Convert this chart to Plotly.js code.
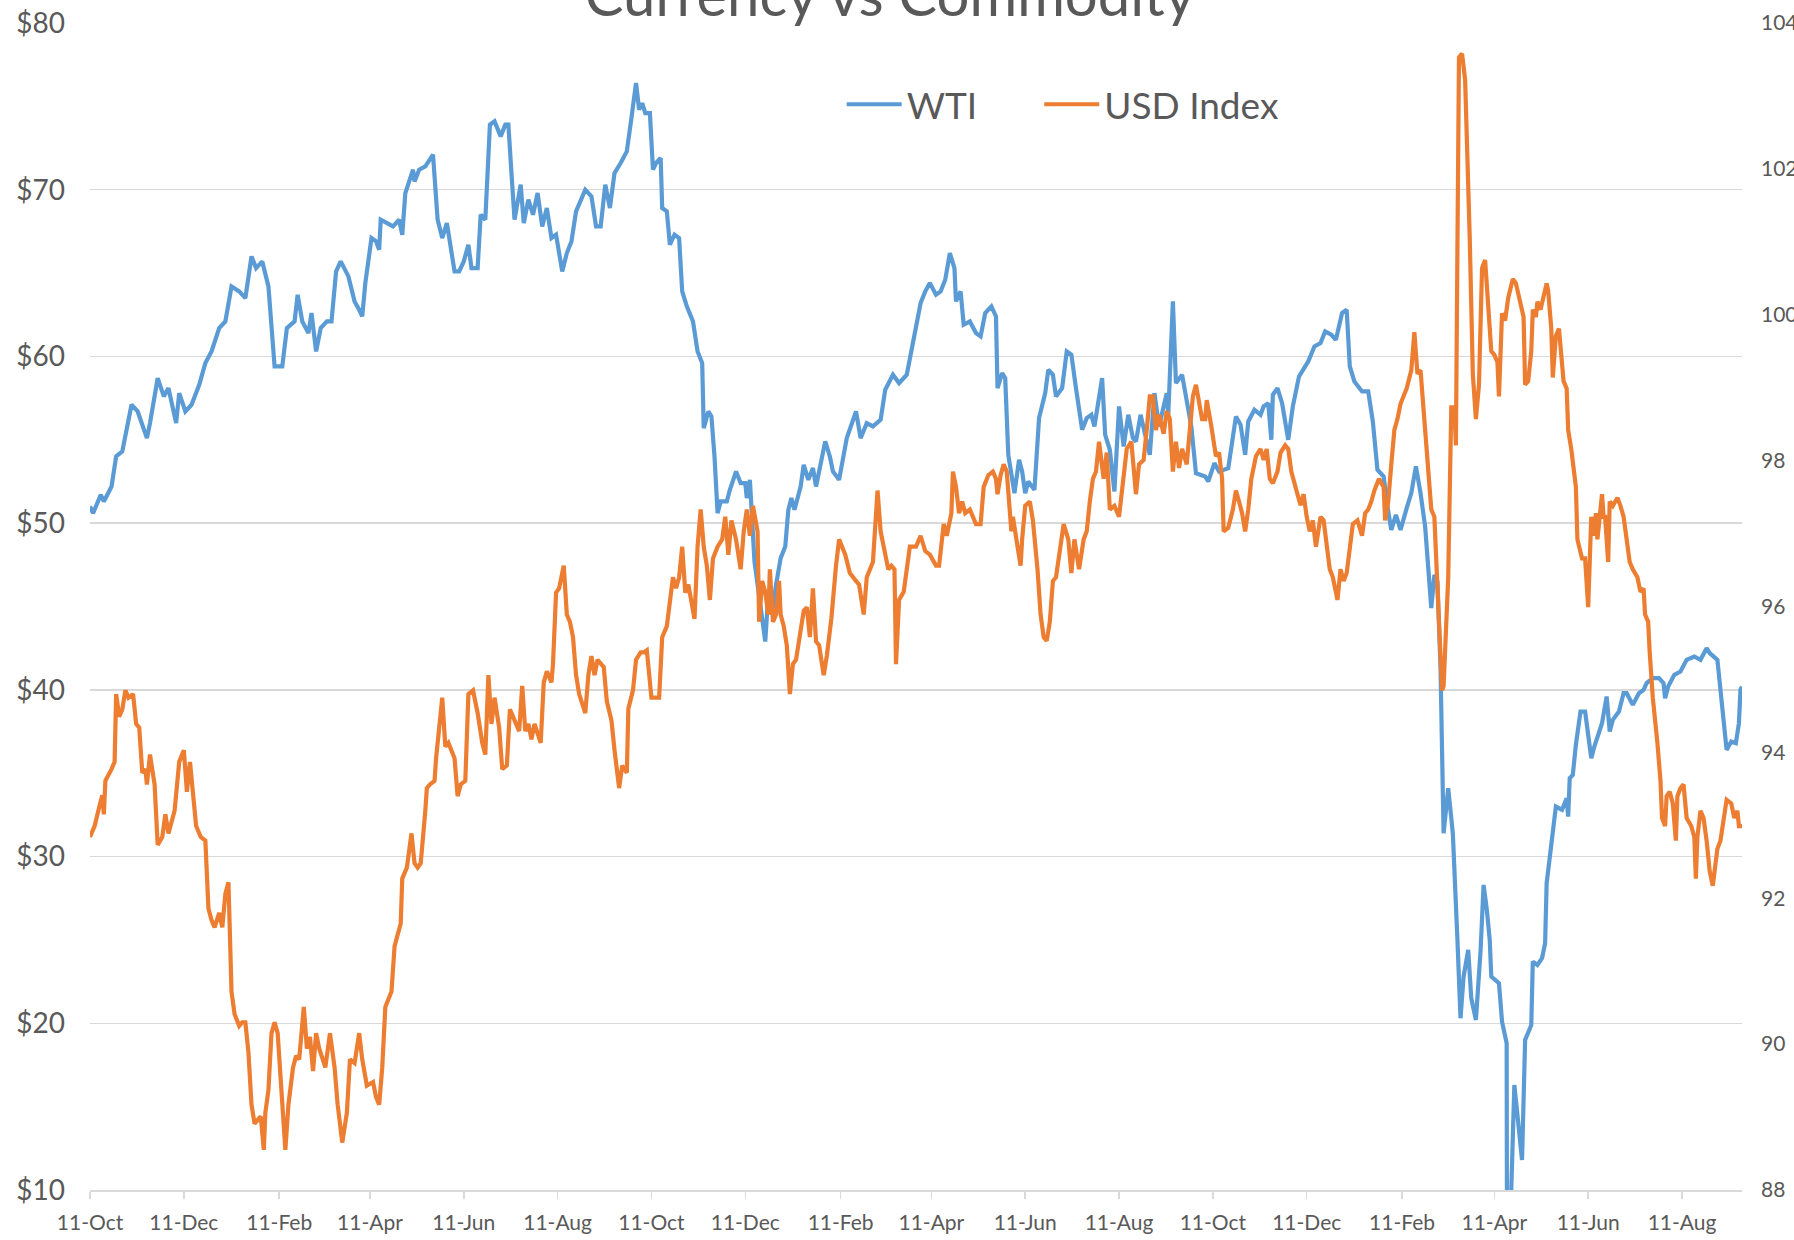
<!DOCTYPE html>
<html>
<head>
<meta charset="utf-8">
<script src="https://cdn.plot.ly/plotly-3.0.1.min.js"></script>
<style>html,body{margin:0;padding:0;background:#fff;}#chart{width:1794px;height:1240px;}</style>
</head>
<body>
<div id="chart"></div>
<script>
// Days counted from 11-Oct-2017 (first date of the chart)
const startDate = '2017-10-11';

const wtiDays = [0,2,7,9,14,17,21,27,31,35,37,39,44,48,51,56,58,62,66,71,75,79,84,88,92,97,101,105,108,112,116,120,125,128,133,135,138,142,144,147,150,154,157,160,163,168,172,
175,177,179,183,186,188,189,193,197,201,203,205,210,211,214,218,223,226,229,232,237,240,243,246,248,252,254,257,260,263,267,270,272,274,276,280,282,285,288,291,294,297,300,303,307,310,313,316,322,326,329,332,335,338,341,345,349,352,355,357,
359,361,364,366,368,371,372,375,377,380,383,385,388,392,395,398,399,402,404,406,408,410,414,416,420,423,426,427,429,432,436,439,441,444,446,449,452,454,456,458,462,464,467,470,472,476,478,481,483,487,492,498,501,505,509,514,517,522,526,531,534,537,540,543,
546,550,553,556,559,562,563,566,568,572,576,579,582,586,589,590,593,595,597,601,604,606,608,610,614,617,621,623,626,628,632,635,638,641,645,648,651,653,658,660,663,666,667,669,672,675,678,680,683,689,692,695,700,701,704,706,710,712,716,719,725,
727,731,734,740,745,748,751,753,757,761,763,766,768,769,772,775,779,782,786,789,792,796,800,803,807,810,814,817,819,822,827,831,834,837,841,844,846,849,852,856,859,862,865,868,870,872,874,876,878,880,883,886,889,891,893,896,898,901,904,906,908,910,
911,914,916,918,921,922,924,926,928,931,933,935,937,938,941,944,946,947,949,951,953,957,960,961,962,964,966,969,972,974,976,978,981,983,986,988,990,994,997,999,1003,1007,1010,1012,1016,1020,1023,1024,1026,1030,1034,1038,1043,1047,1051,1053,1058,1060,1062,1064,1067,1070,1072,1073,1074];

const wtiValues = [51.0,50.6,51.7,51.3,52.2,54.0,54.3,57.1,56.7,55.6,55.1,56.0,58.7,57.6,58.1,56.0,57.8,56.7,57.1,58.3,59.6,60.3,61.7,62.1,64.2,63.9,63.5,66.0,65.3,65.7,64.2,59.4,59.4,61.7,62.1,63.7,62.1,61.4,62.6,60.3,61.7,62.1,62.1,65.1,65.7,64.8,63.3,
62.8,62.4,64.4,67.1,66.9,66.4,68.2,68.0,67.8,68.2,67.3,69.8,71.2,70.5,71.2,71.4,72.1,68.2,67.1,68.0,65.1,65.1,65.7,66.7,65.3,65.3,68.5,68.2,73.9,74.1,73.2,73.9,73.9,71.0,68.2,70.3,68.0,69.4,68.5,69.8,67.8,68.9,67.1,67.3,65.1,66.2,66.9,68.7,70.0,69.6,67.8,67.8,70.3,68.9,71.0,71.6,72.3,74.3,76.4,74.8,
75.2,74.6,74.6,71.2,71.6,71.9,68.9,68.7,66.7,67.3,67.1,63.9,63.0,62.1,60.3,59.6,55.7,56.7,56.4,54.0,50.6,51.3,51.3,52.0,53.1,52.4,52.4,51.5,52.6,47.7,44.9,42.9,45.8,44.9,46.3,47.9,48.6,50.8,51.5,50.8,52.2,53.5,52.6,53.3,52.2,54.0,54.9,54.0,53.1,52.6,55.1,56.7,55.1,56.0,55.8,56.2,58.0,58.9,58.4,58.9,60.3,61.9,63.2,63.9,
64.4,63.7,63.9,64.6,66.2,65.3,63.3,63.9,61.9,62.1,61.4,61.2,62.6,63.0,62.4,58.1,59.0,58.7,54.1,51.8,53.8,53.1,51.8,52.5,52.0,56.3,57.8,59.2,58.9,57.6,58.1,60.3,60.1,58.1,55.6,56.3,56.5,55.8,58.7,55.3,54.4,51.9,54.1,57.0,54.6,56.5,55.1,54.9,56.5,54.1,57.8,55.8,57.8,56.5,63.3,58.4,58.9,57.8,55.8,53.0,52.8,
52.5,53.6,53.1,53.3,56.4,55.9,54.1,56.1,56.8,56.5,57.0,57.2,55.0,57.7,58.1,57.2,55.0,57.0,58.8,59.2,59.7,60.6,60.8,61.5,61.3,61.0,62.6,62.8,59.4,58.5,57.9,57.9,56.1,53.2,52.8,50.7,49.6,50.5,49.6,50.9,51.8,53.4,51.8,49.8,46.9,44.9,46.9,46.5,41.3,31.4,34.1,31.4,25.0,20.3,22.8,24.4,21.5,20.2,24.3,28.3,26.9,25.0,
22.8,22.6,22.4,20.1,18.8,-37.6,10.0,16.3,14.5,11.8,19.0,19.4,19.9,23.7,23.5,23.9,24.8,28.4,29.8,31.6,33.0,32.8,33.5,32.4,34.7,34.9,36.7,38.7,38.7,37.3,35.9,36.6,37.5,38.0,39.6,37.5,38.2,38.7,39.8,39.8,39.1,39.8,40.0,40.4,40.7,40.7,40.4,39.5,40.2,40.9,41.1,41.8,42.0,41.8,42.5,42.2,41.8,39.8,38.0,36.4,36.9,36.8,38.0,40.0,40.2];

const usdDays = [0,3,6,8,9,10,14,16,17,19,21,23,25,28,30,32,34,36,37,39,42,44,47,49,51,55,58,61,63,65,69,72,75,77,79,81,84,86,88,90,92,94,97,99,101,103,105,107,111,113,114,116,118,120,122,125,127,129,132,134,136,139,141,143,145,147,149,153,156,159,161,164,167,169,172,
175,177,180,184,186,188,190,192,196,198,200,202,203,206,209,211,213,215,218,219,221,224,225,227,229,231,233,237,239,241,244,246,249,252,255,257,259,261,263,266,268,271,273,275,279,281,283,285,287,289,293,295,297,300,301,303,305,308,310,312,314,316,318,322,324,326,328,330,334,336,339,341,344,346,349,350,353,355,358,360,
362,365,368,370,372,375,379,381,383,385,387,389,393,395,397,399,401,403,405,408,411,413,415,417,420,423,425,427,429,431,434,435,437,439,441,442,444,446,448,449,451,453,455,457,459,462,464,466,468,470,472,474,477,479,482,485,487,491,494,498,500,503,505,509,512,514,517,519,521,523,524,526,529,533,535,537,540,543,
546,550,552,554,555,557,560,561,563,565,567,569,572,576,579,581,584,587,589,590,592,594,596,599,600,603,605,606,608,611,613,616,618,620,622,624,626,628,631,633,636,638,640,643,646,648,650,652,654,656,659,661,663,666,669,672,674,677,680,682,685,687,689,691,693,695,698,700,702,704,706,708,710,713,715,717,719,721,723,
725,726,729,732,734,736,737,740,743,745,747,749,751,753,755,758,761,763,765,767,769,772,774,777,779,781,785,787,789,791,793,795,797,800,802,804,806,808,811,813,815,817,819,821,824,827,829,831,833,835,838,841,842,844,846,848,850,852,856,858,859,861,863,865,867,870,872,874,875,877,879,880,883,884,885,887,888,889,890,892,894,897,899,901,903,905,907,
911,913,915,916,918,920,922,925,927,929,932,933,935,937,938,940,941,943,945,947,948,950,951,953,955,958,960,961,963,965,966,967,970,972,974,975,976,978,979,980,982,983,984,985,987,988,990,993,995,997,999,1001,1003,1006,1008,1010,1011,1013,1014,1016,1019,1021,1022,1024,1025,1027,1029,1031,1032,1034,1036,1038,1041,1043,1044,1045,1047,1049,1051,1053,1055,1058,1060,1062,1064,1067,1069,1071,1072,1074];

const usdValues = [92.84,92.99,93.25,93.41,93.15,93.61,93.77,93.87,94.80,94.49,94.59,94.85,94.75,94.80,94.39,94.34,93.72,93.77,93.56,93.97,93.56,92.73,92.84,93.15,92.89,93.20,93.87,94.03,93.46,93.87,92.99,92.84,92.79,91.86,91.70,91.60,91.80,91.60,92.06,92.22,90.72,90.41,90.25,90.30,90.30,89.89,89.17,88.91,89.01,88.55,89.06,89.37,90.15,90.30,90.15,89.17,88.55,89.17,89.68,89.84,89.79,90.51,89.94,90.10,89.63,90.15,89.94,89.68,90.15,89.68,89.17,88.65,89.06,89.79,89.74,
90.15,89.79,89.43,89.48,89.27,89.17,89.68,90.51,90.72,91.34,91.50,91.65,92.27,92.42,92.89,92.48,92.42,92.48,93.20,93.51,93.56,93.61,93.92,94.34,94.75,94.08,94.13,93.92,93.40,93.56,93.61,94.80,94.85,94.54,94.13,93.97,95.06,94.39,94.75,94.34,93.77,93.82,94.59,94.49,94.29,94.91,94.29,94.39,94.18,94.39,94.13,94.96,95.11,94.96,95.21,96.19,96.25,96.56,95.89,95.79,95.58,95.06,94.80,94.54,95.06,95.32,95.06,95.27,95.17,94.70,94.44,94.03,93.51,93.82,93.72,94.60,94.85,95.27,95.37,95.37,
95.40,94.75,94.75,94.75,95.58,95.73,96.40,96.25,96.40,96.82,96.19,96.30,95.83,96.82,97.33,96.82,96.56,96.09,96.66,96.82,96.92,97.23,96.71,97.18,96.92,96.51,97.03,97.33,96.97,97.38,97.03,95.79,96.35,96.20,95.89,96.51,95.79,95.89,96.35,95.89,95.73,95.47,94.80,95.21,95.27,95.68,95.94,95.99,95.58,96.25,95.52,95.47,95.06,95.32,95.84,96.56,96.92,96.71,96.46,96.35,96.30,95.89,96.40,96.61,97.59,97.03,96.71,96.51,96.56,96.51,95.21,96.09,96.20,96.82,96.82,96.82,96.97,96.76,
96.71,96.56,96.56,96.92,97.13,96.97,97.28,97.85,97.64,97.28,97.44,97.28,97.33,97.13,97.13,97.64,97.80,97.85,97.75,97.54,97.80,97.95,97.85,97.03,97.23,96.82,96.56,96.92,97.38,97.44,97.18,96.51,95.89,95.58,95.53,95.79,96.35,96.40,96.87,97.13,96.92,96.46,96.92,96.51,96.92,97.03,97.44,97.75,97.85,98.26,97.75,98.11,97.33,97.38,97.23,97.75,98.16,98.26,97.54,97.95,98.01,98.42,98.88,98.88,98.42,98.63,98.37,98.68,98.57,97.85,98.26,97.90,98.16,97.95,98.47,98.88,99.04,98.78,98.57,
98.57,98.83,98.47,98.06,98.11,97.75,97.03,97.08,97.33,97.59,97.44,97.28,97.03,97.33,97.75,98.06,98.16,98.01,98.16,97.75,97.69,97.85,98.11,98.21,98.16,97.85,97.54,97.39,97.54,97.23,97.03,97.18,96.82,97.23,97.18,96.82,96.51,96.40,96.09,96.51,96.35,96.46,96.82,97.13,97.18,96.97,97.28,97.33,97.44,97.59,97.75,97.64,97.18,97.44,97.95,98.42,98.57,98.78,98.99,99.19,99.24,99.76,99.19,99.24,98.68,97.95,97.33,97.23,96.82,95.79,94.85,94.91,96.40,97.85,98.73,98.73,98.21,100.94,103.53,103.58,103.22,101.05,99.19,98.57,99.04,100.64,100.75,
99.50,99.45,99.35,98.88,100.02,99.92,100.23,100.49,100.43,100.23,99.97,99.04,99.09,99.50,100.07,99.97,100.18,100.07,100.23,100.43,100.33,99.81,99.14,99.71,99.81,99.09,98.99,98.42,98.16,97.85,97.64,96.92,96.66,96.66,95.99,96.61,97.23,96.97,97.28,96.92,97.44,97.54,97.23,97.23,96.61,97.44,97.38,97.49,97.38,97.23,96.92,96.61,96.51,96.40,96.20,96.25,95.89,95.79,95.37,94.75,94.13,93.61,93.10,92.99,93.40,93.46,93.30,92.79,93.40,93.51,93.56,93.10,92.99,92.84,92.27,92.84,93.20,93.10,92.79,92.37,92.17,92.68,92.79,93.10,93.35,93.30,93.10,93.20,92.99,92.99];

const xTickDates = ['2017-10-11','2017-12-11','2018-02-11','2018-04-11','2018-06-11','2018-08-11','2018-10-11','2018-12-11','2019-02-11','2019-04-11','2019-06-11','2019-08-11','2019-10-11','2019-12-11','2020-02-11','2020-04-11','2020-06-11','2020-08-11'];
const xTickLabels = ['11-Oct','11-Dec','11-Feb','11-Apr','11-Jun','11-Aug','11-Oct','11-Dec','11-Feb','11-Apr','11-Jun','11-Aug','11-Oct','11-Dec','11-Feb','11-Apr','11-Jun','11-Aug'];
const leftTicks = [10,20,30,40,50,60,70,80];
const leftTickLabels = ['$10','$20','$30','$40','$50','$60','$70','$80'];
const rightTicks = [88,90,92,94,96,98,100,102,104];

const xEnd = '2020-09-19';

function dayToDate(d){
  const t = Date.UTC(2017, 9, 11) + d * 86400000;
  return new Date(t).toISOString().slice(0, 10);
}

const traces = [
  {
    x: wtiDays.map(dayToDate), y: wtiValues, name: 'WTI', type: 'scatter', mode: 'lines',
    line: {color: '#5B9BD5', width: 4.2}, yaxis: 'y', legend: 'legend'
  },
  {
    x: usdDays.map(dayToDate), y: usdValues, name: 'USD Index', type: 'scatter', mode: 'lines',
    line: {color: '#ED7D31', width: 4.2}, yaxis: 'y2', legend: 'legend2'
  }
];

const legendFont = {size: 37, color: '#595959', family: 'Lato, "Open Sans", sans-serif'};

const layout = {
  width: 1794, height: 1240,
  paper_bgcolor: '#ffffff', plot_bgcolor: '#ffffff',
  font: {family: 'Lato, "Open Sans", sans-serif', color: '#595959'},
  margin: {l: 90, r: 52, t: 23, b: 50},
  title: {
    text: 'Currency vs Commodity',
    font: {size: 58, color: '#595959', family: 'Lato, "Open Sans", sans-serif'},
    x: 0.496, xanchor: 'center', xref: 'container',
    y: 0.9871, yanchor: 'bottom', yref: 'container'
  },
  showlegend: true,
  legend: {
    orientation: 'h', x: 0.455, xanchor: 'left', y: 0.93, yanchor: 'middle',
    font: legendFont, bgcolor: 'rgba(0,0,0,0)', itemwidth: 55
  },
  legend2: {
    orientation: 'h', x: 0.5746, xanchor: 'left', y: 0.93, yanchor: 'middle',
    font: legendFont, bgcolor: 'rgba(0,0,0,0)', itemwidth: 55
  },
  xaxis: {
    type: 'date', range: [startDate, xEnd],
    tickvals: xTickDates, ticktext: xTickLabels,
    tickfont: {size: 21, color: '#595959'},
    showgrid: false, zeroline: false,
    showline: true, linecolor: '#d9d9d9', linewidth: 1.5,
    ticks: 'outside', ticklen: 7, tickcolor: '#d9d9d9', tickwidth: 1.5,
    ticklabelstandoff: 6
  },
  yaxis: {
    range: [10, 80], tickvals: leftTicks, ticktext: leftTickLabels,
    tickfont: {size: 28, color: '#595959'},
    showgrid: true, gridcolor: '#d9d9d9', gridwidth: 1.5,
    zeroline: false, showline: false, ticks: '',
    ticklabelstandoff: 24
  },
  yaxis2: {
    range: [88, 104], tickvals: rightTicks,
    overlaying: 'y', side: 'right',
    tickfont: {size: 21, color: '#595959'},
    showgrid: false, zeroline: false, showline: false, ticks: '',
    ticklabelstandoff: 18
  }
};

Plotly.newPlot('chart', traces, layout, {displayModeBar: false, staticPlot: true});
</script>
</body>
</html>
